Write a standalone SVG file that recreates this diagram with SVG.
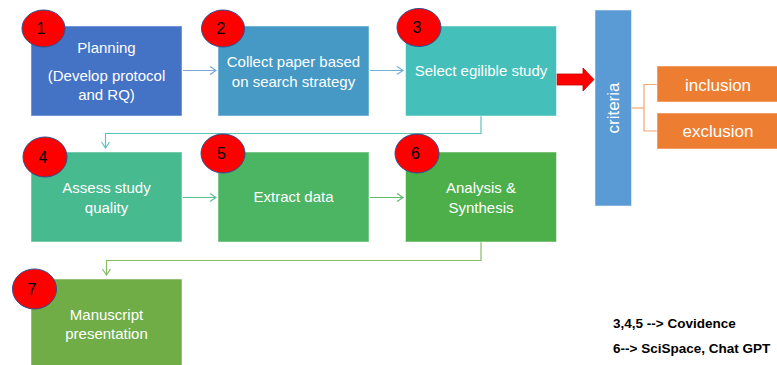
<svg xmlns="http://www.w3.org/2000/svg" width="777" height="365" viewBox="0 0 777 365">
<style>
.box{stroke:#ffffff;stroke-opacity:0.5;stroke-width:1}
.t{font-family:"Liberation Sans",Arial,sans-serif;font-size:15px;fill:#ffffff;text-anchor:middle}
.num{font-family:"Liberation Sans",Arial,sans-serif;font-size:16px;fill:#000000;text-anchor:middle}
.badge{fill:#ff0000;stroke:#2f4f8f;stroke-width:1}
.c{fill:none;stroke-width:1.2}
.note{font-family:"Liberation Sans",Arial,sans-serif;font-size:13.5px;font-weight:bold;fill:#000000}
</style>
<defs>
<marker id="a1" markerWidth="10" markerHeight="10" refX="9" refY="5" orient="auto" markerUnits="userSpaceOnUse"><polyline points="3,1 9,5 3,9" fill="none" stroke="#7aa5d6" stroke-width="1.2"/></marker>
<marker id="a2" markerWidth="10" markerHeight="10" refX="9" refY="5" orient="auto" markerUnits="userSpaceOnUse"><polyline points="3,1 9,5 3,9" fill="none" stroke="#6fb0d0" stroke-width="1.2"/></marker>
<marker id="a3" markerWidth="10" markerHeight="10" refX="9" refY="5" orient="auto" markerUnits="userSpaceOnUse"><polyline points="3,1 9,5 3,9" fill="none" stroke="#5cc5be" stroke-width="1.2"/></marker>
<marker id="a4" markerWidth="10" markerHeight="10" refX="9" refY="5" orient="auto" markerUnits="userSpaceOnUse"><polyline points="3,1 9,5 3,9" fill="none" stroke="#5fc08f" stroke-width="1.2"/></marker>
<marker id="a5" markerWidth="10" markerHeight="10" refX="9" refY="5" orient="auto" markerUnits="userSpaceOnUse"><polyline points="3,1 9,5 3,9" fill="none" stroke="#5cbd6a" stroke-width="1.2"/></marker>
<marker id="a6" markerWidth="10" markerHeight="10" refX="9" refY="5" orient="auto" markerUnits="userSpaceOnUse"><polyline points="3,1 9,5 3,9" fill="none" stroke="#86bd64" stroke-width="1.2"/></marker>
</defs>
<rect width="777" height="365" fill="#ffffff"/>

<g id="connectors">
<line class="c" x1="183" y1="70.5" x2="216" y2="70.5" stroke="#7aa5d6" marker-end="url(#a1)"/>
<line class="c" x1="370" y1="70.5" x2="403" y2="70.5" stroke="#6fb0d0" marker-end="url(#a2)"/>
<polyline class="c" points="481,116 481,133.5 105.5,133.5 105.5,148" stroke="#5cc5be" marker-end="url(#a3)"/>
<line class="c" x1="183" y1="197.5" x2="216" y2="197.5" stroke="#5fc08f" marker-end="url(#a4)"/>
<line class="c" x1="370" y1="197.5" x2="403" y2="197.5" stroke="#5cbd6a" marker-end="url(#a5)"/>
<polyline class="c" points="481,242 481,260.5 106.5,260.5 106.5,275" stroke="#86bd64" marker-end="url(#a6)"/>
<polygon points="554,74 583,74 583,68 594,79.5 583,91 583,85 554,85" fill="#ff0000" stroke="#c00000" stroke-width="0.8"/>
<polyline class="c" points="631,108 644,108" stroke="#f4a66f"/>
<polyline class="c" points="657,84.5 644,84.5 644,131 657,131" stroke="#f4a66f"/>
</g>

<g id="n1">
<rect class="box" x="31" y="26" width="151" height="90" fill="#4472c4"/>
<text class="t" x="106.5" y="53">Planning</text>
<text class="t" x="106.5" y="81">(Develop protocol</text>
<text class="t" x="106.5" y="100">and RQ)</text>
<ellipse class="badge" cx="43.5" cy="28.5" rx="21.5" ry="18.5"/>
<text class="num" x="41" y="34">1</text>
</g>

<g id="n2">
<rect class="box" x="218" y="26" width="151" height="90" fill="#4599c4"/>
<text class="t" x="293.5" y="67">Collect paper based</text>
<text class="t" x="293.5" y="87">on search strategy</text>
<ellipse class="badge" cx="223" cy="28.5" rx="21.5" ry="18.5"/>
<text class="num" x="221" y="34">2</text>
</g>

<g id="n3">
<rect class="box" x="405.5" y="26" width="151" height="90" fill="#44bfb9"/>
<text class="t" x="481" y="76">Select egilible study</text>
<ellipse class="badge" cx="419" cy="27.5" rx="22" ry="19"/>
<text class="num" x="417" y="33">3</text>
</g>

<g id="criteria">
<rect class="box" x="595" y="10" width="36.5" height="196" fill="#5b9bd5"/>
<text class="t" transform="translate(619,108) rotate(-90)" x="0" y="0" style="font-size:17px">criteria</text>
</g>

<g id="inclusion">
<rect class="box" x="657" y="66" width="125" height="36" fill="#ed7d31"/>
<text class="t" x="718" y="91" style="font-size:17px">inclusion</text>
</g>

<g id="exclusion">
<rect class="box" x="657" y="113" width="125" height="36" fill="#ed7d31"/>
<text class="t" x="718" y="137" style="font-size:17px">exclusion</text>
</g>

<g id="n4">
<rect class="box" x="31" y="152" width="151" height="90" fill="#47ba8f"/>
<text class="t" x="106.5" y="193">Assess study</text>
<text class="t" x="106.5" y="213">quality</text>
<ellipse class="badge" cx="45" cy="157" rx="22" ry="20"/>
<text class="num" x="43" y="163">4</text>
</g>

<g id="n5">
<rect class="box" x="218" y="152" width="151" height="90" fill="#4bb563"/>
<text class="t" x="293.5" y="202">Extract data</text>
<ellipse class="badge" cx="223" cy="153.5" rx="22" ry="19.5"/>
<text class="num" x="221.5" y="159">5</text>
</g>

<g id="n6">
<rect class="box" x="405.5" y="152" width="151" height="90" fill="#4daf4a"/>
<text class="t" x="481" y="193">Analysis &amp;</text>
<text class="t" x="481" y="213">Synthesis</text>
<ellipse class="badge" cx="417" cy="153.5" rx="22" ry="19.5"/>
<text class="num" x="415.5" y="159">6</text>
</g>

<g id="n7">
<rect class="box" x="31" y="279" width="151" height="90" fill="#70ad47"/>
<text class="t" x="106.5" y="320">Manuscript</text>
<text class="t" x="106.5" y="339">presentation</text>
<ellipse class="badge" cx="34.5" cy="289" rx="22" ry="20"/>
<text class="num" x="32" y="295">7</text>
</g>

<g id="notes">
<text class="note" x="613" y="328">3,4,5 --&gt; Covidence</text>
<text class="note" x="613" y="353">6--&gt; SciSpace, Chat GPT</text>
</g>
</svg>
